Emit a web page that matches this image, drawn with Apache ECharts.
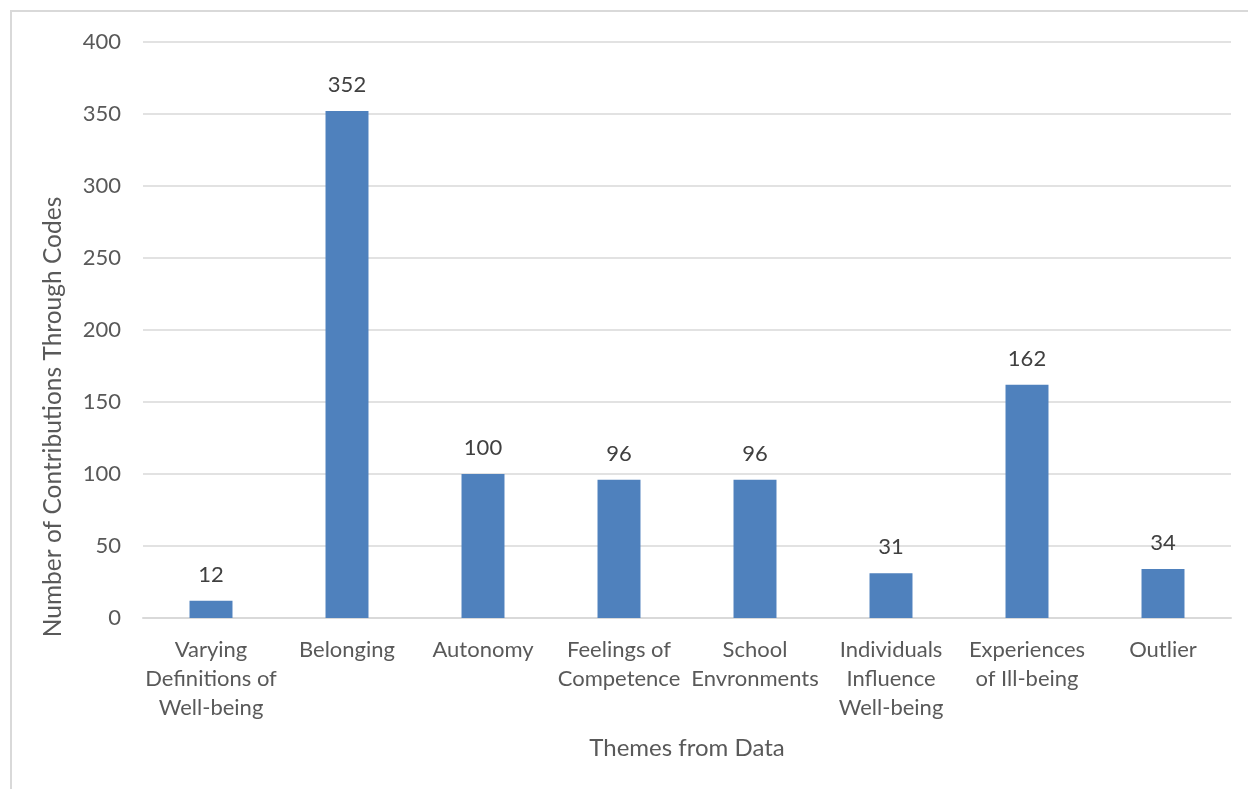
<!DOCTYPE html>
<html>
<head>
<meta charset="utf-8">
<script src="https://cdn.jsdelivr.net/npm/echarts@6/dist/echarts.min.js"></script>
<style>
  html, body { margin: 0; padding: 0; background: #fff; }
  #chart { width: 1248px; height: 789px; }
</style>
</head>
<body>
<div id="chart"></div>
<script>
const categories = [
  'Varying\nDefinitions of\nWell-being',
  'Belonging',
  'Autonomy',
  'Feelings of\nCompetence',
  'School\nEnvronments',
  'Individuals\nInfluence\nWell-being',
  'Experiences\nof Ill-being',
  'Outlier'
]
const counts = [12, 352, 100, 96, 96, 31, 162, 34]

const textColor = '#595959'
const fontFamily = 'Lato, "Open Sans", sans-serif'

const chart = echarts.init(document.getElementById('chart'))

chart.setOption({
  animation: false,
  textStyle: { fontFamily: fontFamily },
  graphic: [
    {
      type: 'rect',
      shape: { x: 11, y: 11, width: 1300, height: 900 },
      style: { fill: 'none', stroke: '#d9d9d9', lineWidth: 2 },
      silent: true
    }
  ],
  grid: {
    left: 143,
    right: 17,
    top: 42,
    bottom: 171
  },
  xAxis: {
    type: 'category',
    data: categories,
    name: 'Themes from Data',
    nameLocation: 'middle',
    nameGap: 118,
    nameTextStyle: { color: textColor, fontSize: 24, fontFamily: fontFamily },
    axisTick: { show: false },
    axisLine: { lineStyle: { color: '#d9d9d9', width: 2 } },
    axisLabel: {
      color: textColor,
      fontSize: 22,
      lineHeight: 29,
      margin: 17,
      interval: 0,
      fontFamily: fontFamily
    }
  },
  yAxis: {
    type: 'value',
    min: 0,
    max: 400,
    interval: 50,
    name: 'Number of Contributions Through Codes',
    nameLocation: 'middle',
    nameGap: 77,
    nameTextStyle: {
      color: textColor,
      fontSize: 24.5,
      fontFamily: fontFamily,
      // title sits lower than the plot centre in the original
      padding: [0, 174, 0, 0]
    },
    axisLine: { show: false },
    axisTick: { show: false },
    axisLabel: { color: textColor, fontSize: 22, margin: 22, fontFamily: fontFamily },
    splitLine: { lineStyle: { color: '#d9d9d9', width: 1.5 } }
  },
  series: [
    {
      type: 'bar',
      data: counts,
      barWidth: '31.6%',
      itemStyle: { color: '#4f81bd' },
      label: {
        show: true,
        position: 'top',
        distance: 15,
        color: '#404040',
        fontSize: 22,
        fontFamily: fontFamily
      }
    }
  ]
})
</script>
</body>
</html>
